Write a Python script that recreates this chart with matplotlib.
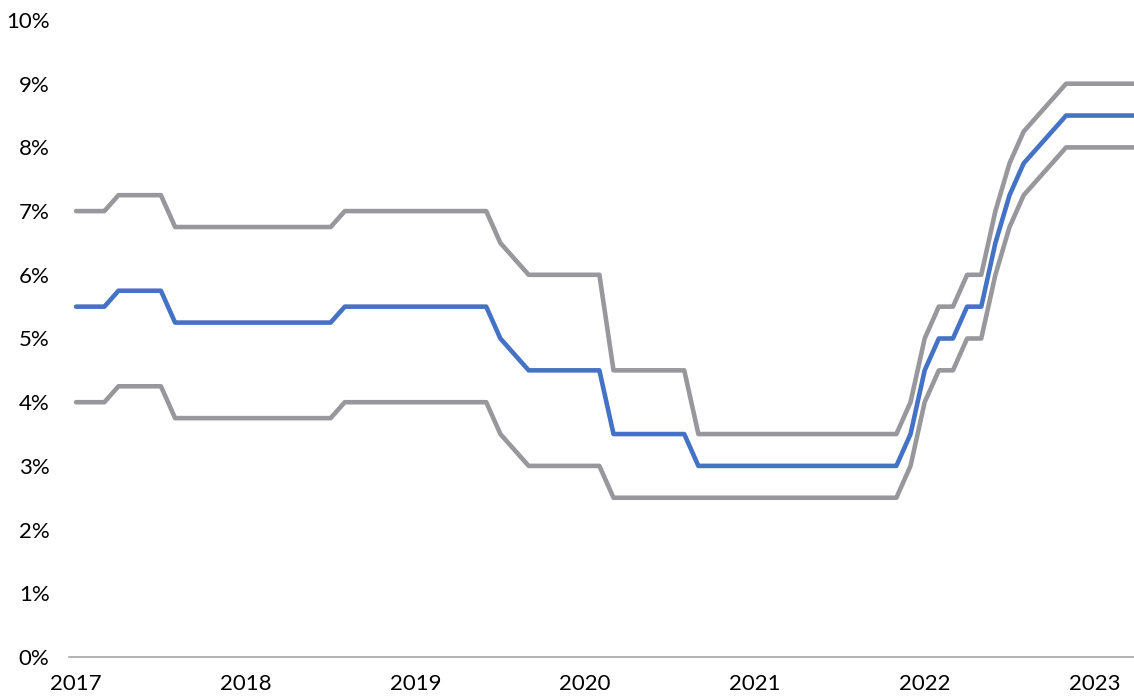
import matplotlib.pyplot as plt

# monthly observations, Jan 2017 onwards
months = list(range(76))

policy_rate = [
    5.5, 5.5, 5.5,
    5.75, 5.75, 5.75, 5.75,
    5.25, 5.25, 5.25, 5.25, 5.25, 5.25, 5.25, 5.25, 5.25, 5.25, 5.25, 5.25,
    5.5, 5.5, 5.5, 5.5, 5.5, 5.5, 5.5, 5.5, 5.5, 5.5, 5.5,
    5.0, 4.75,
    4.5, 4.5, 4.5, 4.5, 4.5, 4.5,
    3.5, 3.5, 3.5, 3.5, 3.5, 3.5,
    3.0, 3.0, 3.0, 3.0, 3.0, 3.0, 3.0, 3.0, 3.0, 3.0, 3.0, 3.0, 3.0, 3.0, 3.0,
    3.5, 4.5, 5.0, 5.0, 5.5, 5.5, 6.5, 7.25, 7.75, 8.0, 8.25,
    8.5, 8.5, 8.5, 8.5, 8.5, 8.5,
]

upper_band = [
    7.0, 7.0, 7.0,
    7.25, 7.25, 7.25, 7.25,
    6.75, 6.75, 6.75, 6.75, 6.75, 6.75, 6.75, 6.75, 6.75, 6.75, 6.75, 6.75,
    7.0, 7.0, 7.0, 7.0, 7.0, 7.0, 7.0, 7.0, 7.0, 7.0, 7.0,
    6.5, 6.25,
    6.0, 6.0, 6.0, 6.0, 6.0, 6.0,
    4.5, 4.5, 4.5, 4.5, 4.5, 4.5,
    3.5, 3.5, 3.5, 3.5, 3.5, 3.5, 3.5, 3.5, 3.5, 3.5, 3.5, 3.5, 3.5, 3.5, 3.5,
    4.0, 5.0, 5.5, 5.5, 6.0, 6.0, 7.0, 7.75, 8.25, 8.5, 8.75,
    9.0, 9.0, 9.0, 9.0, 9.0, 9.0,
]

lower_band = [
    4.0, 4.0, 4.0,
    4.25, 4.25, 4.25, 4.25,
    3.75, 3.75, 3.75, 3.75, 3.75, 3.75, 3.75, 3.75, 3.75, 3.75, 3.75, 3.75,
    4.0, 4.0, 4.0, 4.0, 4.0, 4.0, 4.0, 4.0, 4.0, 4.0, 4.0,
    3.5, 3.25,
    3.0, 3.0, 3.0, 3.0, 3.0, 3.0,
    2.5, 2.5, 2.5, 2.5, 2.5, 2.5,
    2.5, 2.5, 2.5, 2.5, 2.5, 2.5, 2.5, 2.5, 2.5, 2.5, 2.5, 2.5, 2.5, 2.5, 2.5,
    3.0, 4.0, 4.5, 4.5, 5.0, 5.0, 6.0, 6.75, 7.25, 7.5, 7.75,
    8.0, 8.0, 8.0, 8.0, 8.0, 8.0,
]

years = ["2017", "2018", "2019", "2020", "2021", "2022", "2023"]
year_ticks = [0, 12, 24, 36, 48, 60, 72]
y_ticks = [0, 1, 2, 3, 4, 5, 6, 7, 8, 9, 10]

plt.rcParams["font.family"] = ["Lato", "DejaVu Sans"]

W, H = 1134, 698
fig = plt.figure(figsize=(W / 100, H / 100), dpi=100)
ax = fig.add_axes([69 / W, (H - 657) / H, (W - 69) / W, (657 - 20) / H])

grey = "#98989c"
blue = "#4472c4"
line_kw = dict(linewidth=3.3, solid_joinstyle="round", solid_capstyle="round")
ax.plot(months, upper_band, color=grey, **line_kw)
ax.plot(months, lower_band, color=grey, **line_kw)
ax.plot(months, policy_rate, color=blue, **line_kw)

ax.set_xlim(-0.5, 74.8)
ax.set_ylim(0, 10)

ax.set_xticks(year_ticks)
ax.set_xticklabels(years)
ax.set_yticks(y_ticks)
ax.set_yticklabels([f"{v}%" for v in y_ticks])

for side in ["top", "right", "left"]:
    ax.spines[side].set_visible(False)
ax.spines["bottom"].set_color("#a6a6a6")
ax.spines["bottom"].set_linewidth(1.2)

ax.tick_params(axis="both", length=0, labelsize=16, colors="#000000")
ax.tick_params(axis="y", pad=14)
ax.tick_params(axis="x", pad=12)

fig.savefig("out.png", dpi=100)
